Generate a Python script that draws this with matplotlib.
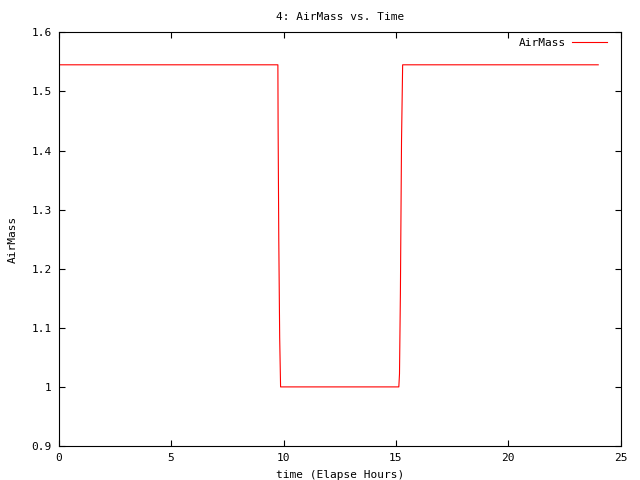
import matplotlib
matplotlib.use("Agg")
import matplotlib.pyplot as plt
from matplotlib.ticker import FixedLocator, FixedFormatter

# Data
time_hours = [0.0, 9.75, 9.76, 9.79, 9.83, 9.87, 15.13, 15.16, 15.20, 15.25, 15.30, 24.0]
airmass = [1.545, 1.545, 1.44, 1.25, 1.084, 1.0, 1.0, 1.022, 1.158, 1.416, 1.545, 1.545]

x_ticks = [0, 5, 10, 15, 20, 25]
x_tick_labels = ["0", "5", "10", "15", "20", "25"]
y_ticks = [0.9, 1.0, 1.1, 1.2, 1.3, 1.4, 1.5, 1.6]
y_tick_labels = ["0.9", "1", "1.1", "1.2", "1.3", "1.4", "1.5", "1.6"]

plt.rcParams['font.family'] = ['DejaVu Sans Mono']
plt.rcParams['font.size'] = 8

fig = plt.figure(figsize=(6.4, 4.8), dpi=100)
ax = fig.add_axes([58.7 / 640, 1 - 446 / 480, (620.7 - 58.7) / 640, (446 - 32.3) / 480])

ax.plot(time_hours, airmass, color="red", linewidth=0.8, label="AirMass")

ax.set_xlim(0, 25)
ax.set_ylim(0.9, 1.6)
ax.xaxis.set_major_locator(FixedLocator(x_ticks))
ax.xaxis.set_major_formatter(FixedFormatter(x_tick_labels))
ax.yaxis.set_major_locator(FixedLocator(y_ticks))
ax.yaxis.set_major_formatter(FixedFormatter(y_tick_labels))

ax.tick_params(direction="in", length=4, width=0.8, top=True, right=True,
               labelsize=8, pad=5, color="black")
for s in ax.spines.values():
    s.set_linewidth(0.8)

ax.set_title("4: AirMass vs. Time", fontsize=8, pad=9)
ax.set_xlabel("time (Elapse Hours)", fontsize=8, labelpad=5)
ax.set_ylabel("AirMass", fontsize=8, labelpad=10)

leg = ax.legend(loc="upper right", bbox_to_anchor=(0.984, 0.997), borderaxespad=0,
                frameon=False, markerfirst=False,
                handlelength=3.2, fontsize=8, handletextpad=0.55)

fig.savefig("out.png", dpi=100)
